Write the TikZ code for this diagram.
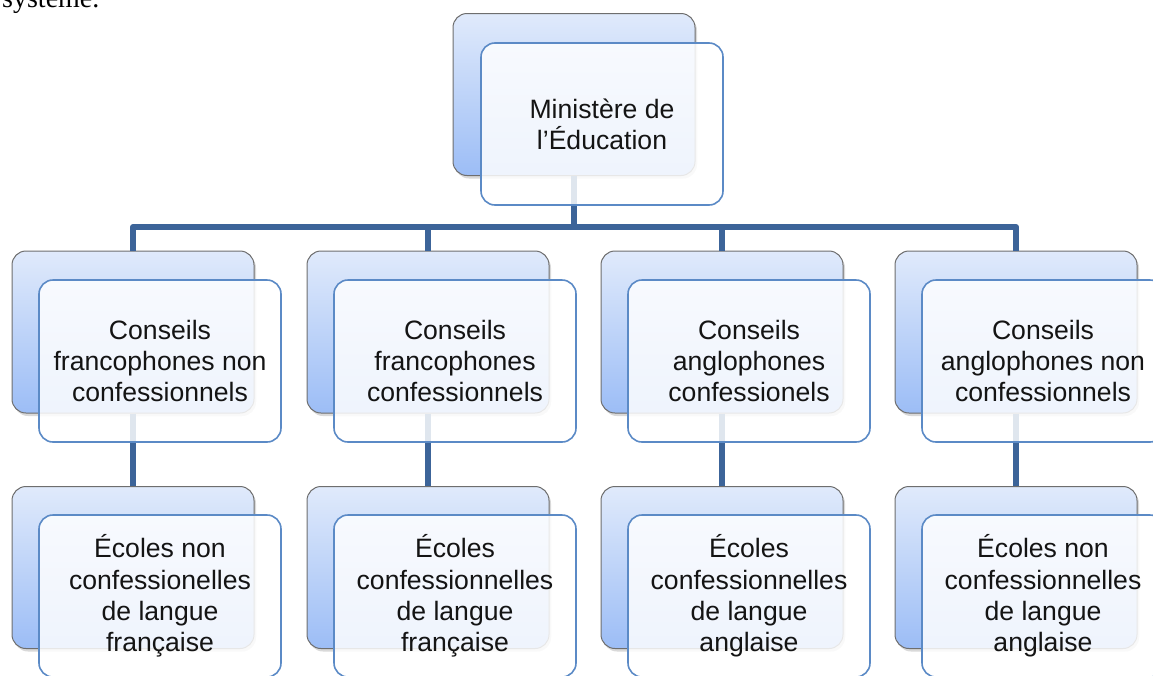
\documentclass[tikz,border=0pt]{standalone}
\usepackage{fontspec}
\setmainfont{Liberation Sans}
\newfontfamily\serifdoc{Liberation Serif}
\usetikzlibrary{shadows}
\definecolor{backtop}{HTML}{E0EAFB}
\definecolor{backbot}{HTML}{9CBDF6}
\definecolor{backline}{HTML}{6E6E6E}
\definecolor{frontline}{HTML}{5B8AC6}
\definecolor{conn}{HTML}{3C6499}
\definecolor{txt}{HTML}{141414}
\tikzset{
  backbox/.style={draw=backline, line width=1pt, rounded corners=14pt,
    top color=backtop, bottom color=backbot,
    minimum width=242pt, minimum height=162pt, inner sep=0pt,
    drop shadow={shadow xshift=2pt, shadow yshift=-3pt, opacity=0.3}},
  frontbox/.style={draw=frontline, line width=1.6pt, rounded corners=14pt,
    fill=white, fill opacity=0.84, text opacity=1,
    minimum width=242pt, minimum height=162pt, inner sep=0pt,
    align=center, text=txt,
    font=\fontsize{26.6}{31.2}\selectfont},
  connector/.style={draw=conn, line width=6pt, line join=round}
}
\begin{document}
\begin{tikzpicture}[x=1pt,y=-1pt]
\useasboundingbox (0,0) rectangle (1153,675);
\clip (0,0) rectangle (1153,675);
% surrounding text fragment
\node[anchor=base west, inner sep=0pt, font=\serifdoc\fontsize{28}{30}\selectfont, text=black] (frag) at (2,7) {système.};
% back boxes
\node[backbox] (tb) at (574,94.5) {};
\node[backbox] (b1) at (133,332) {};
\node[backbox] (b2) at (428,332) {};
\node[backbox] (b3) at (722,332) {};
\node[backbox] (b4) at (1016,332) {};
\node[backbox] (c1) at (133,567.5) {};
\node[backbox] (c2) at (428,567.5) {};
\node[backbox] (c3) at (722,567.5) {};
\node[backbox] (c4) at (1016,567.5) {};
% connectors
\coordinate (hub) at (574,227);
\draw[connector] (tb.south) -- (hub);
\draw[connector] (b1.north) |- (hub);
\draw[connector] (b2.north) |- (hub);
\draw[connector] (b3.north) |- (hub);
\draw[connector] (b4.north) |- (hub);
\draw[connector] (b1.south) -- (c1.north);
\draw[connector] (b2.south) -- (c2.north);
\draw[connector] (b3.south) -- (c3.north);
\draw[connector] (b4.south) -- (c4.north);
% front boxes
\node[frontbox] (ft) at (602,124) {Ministère de\\l’Éducation};
\node[frontbox] (f1) at (160,361) {Conseils\\francophones non\\confessionnels};
\node[frontbox] (f2) at (455,361) {Conseils\\francophones\\confessionnels};
\node[frontbox] (f3) at (749,361) {Conseils\\anglophones\\confessionels};
\node[frontbox] (f4) at (1043,361) {Conseils\\anglophones non\\confessionnels};
\node[frontbox] (g1) at (160,596) {Écoles non\\confessionelles\\de langue\\française};
\node[frontbox] (g2) at (455,596) {Écoles\\confessionnelles\\de langue\\française};
\node[frontbox] (g3) at (749,596) {Écoles\\confessionnelles\\de langue\\anglaise};
\node[frontbox] (g4) at (1043,596) {Écoles non\\confessionnelles\\de langue\\anglaise};
\end{tikzpicture}
\end{document}
